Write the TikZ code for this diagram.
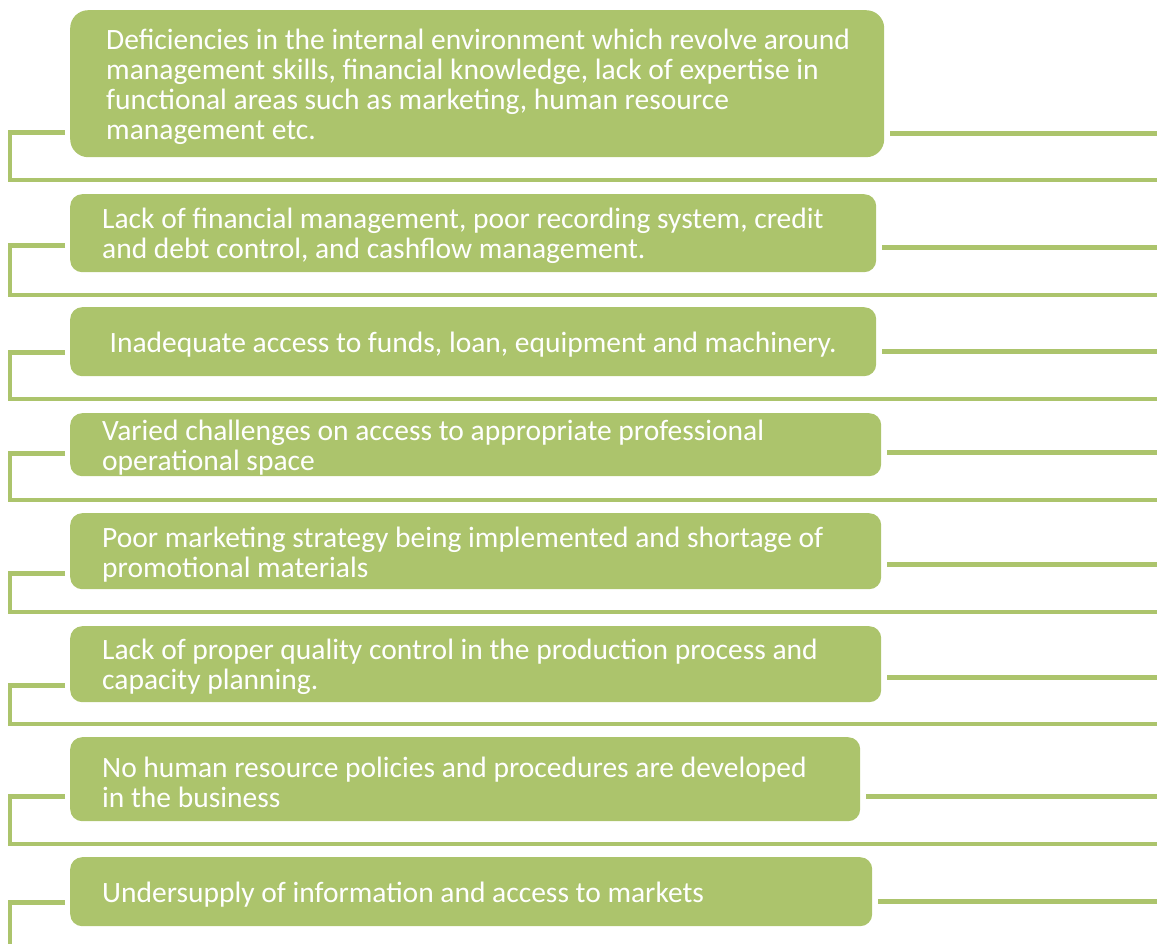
\documentclass[tikz,border=0pt]{standalone}
\usepackage{fontspec}
\setmainfont{Carlito}
\usetikzlibrary{calc}
\definecolor{leaf}{RGB}{172,196,108}
\begin{document}
\begin{tikzpicture}[x=1pt,y=-1pt,
  boxcard/.style={fill=leaf, rounded corners=12pt, inner sep=0pt, anchor=north west},
  cardtext/.style={text=white, font=\fontsize{29.5}{30}\selectfont, align=left, inner sep=0pt, anchor=west, yshift=-3pt},
  wire/.style={draw=leaf, line width=4.6pt}]
\useasboundingbox (0,0) rectangle (1157,944);

% cards
\node[boxcard, rounded corners=18pt, minimum width=814pt, minimum height=147pt] (b1) at (70,10) {};
\node[boxcard, minimum width=806pt, minimum height=78pt] (b2) at (70,194) {};
\node[boxcard, minimum width=806pt, minimum height=69pt] (b3) at (70,307) {};
\node[boxcard, minimum width=811pt, minimum height=63pt] (b4) at (70,413) {};
\node[boxcard, minimum width=811pt, minimum height=76pt] (b5) at (70,513) {};
\node[boxcard, minimum width=811pt, minimum height=76pt] (b6) at (70,626) {};
\node[boxcard, minimum width=790pt, minimum height=84pt] (b7) at (70,737) {};
\node[boxcard, minimum width=802pt, minimum height=69pt] (b8) at (70,857) {};

% card texts
\node[cardtext] (t1) at ($(b1.west)+(36,0)$) {Deficiencies in the internal environment which revolve around\\management skills, financial knowledge, lack of expertise in\\functional areas such as marketing, human resource\\management etc.};
\node[cardtext] (t2) at ($(b2.west)+(32,0)$) {Lack of financial management, poor recording system, credit\\and debt control, and cashflow management.};
\node[cardtext, anchor=center] (t3) at (b3.center) {Inadequate access to funds, loan, equipment and machinery.};
\node[cardtext] (t4) at ($(b4.west)+(32,0)$) {Varied challenges on access to appropriate professional\\operational space};
\node[cardtext] (t5) at ($(b5.west)+(32,0)$) {Poor marketing strategy being implemented and shortage of\\promotional materials};
\node[cardtext] (t6) at ($(b6.west)+(32,0)$) {Lack of proper quality control in the production process and\\capacity planning.};
\node[cardtext] (t7) at ($(b7.west)+(32,0)$) {No human resource policies and procedures are developed\\in the business};
\node[cardtext] (t8) at ($(b8.west)+(32,0)$) {Undersupply of information and access to markets};

% left stubs and the brackets that run along under each card
\coordinate (l1) at ($(b1.south west)+(-5,-25)$);
\coordinate (l2) at ($(b2.south west)+(-5,-27)$);
\coordinate (l3) at ($(b3.south west)+(-5,-24)$);
\coordinate (l4) at ($(b4.south west)+(-5,-23)$);
\coordinate (l5) at ($(b5.south west)+(-5,-16)$);
\coordinate (l6) at ($(b6.south west)+(-5,-17)$);
\coordinate (l7) at ($(b7.south west)+(-5,-25)$);
\coordinate (l8) at ($(b8.south west)+(-5,-24)$);

\draw[wire] (l1) -| (10,180) -- (1157,180);
\draw[wire] (l2) -| (10,295) -- (1157,295);
\draw[wire] (l3) -| (10,399) -- (1157,399);
\draw[wire] (l4) -| (10,500) -- (1157,500);
\draw[wire] (l5) -| (10,612) -- (1157,612);
\draw[wire] (l6) -| (10,724) -- (1157,724);
\draw[wire] (l7) -| (10,844) -- (1157,844);
\draw[wire] (l8) -| (10,944);

% right stubs
\coordinate (rim) at (1157,0);
\coordinate (r1) at ($(b1.south east)+(6,-24)$);
\coordinate (r2) at ($(b2.south east)+(6,-25)$);
\coordinate (r3) at ($(b3.south east)+(6,-25)$);
\coordinate (r4) at ($(b4.south east)+(6,-24)$);
\coordinate (r5) at ($(b5.south east)+(6,-25)$);
\coordinate (r6) at ($(b6.south east)+(6,-25)$);
\coordinate (r7) at ($(b7.south east)+(6,-25)$);
\coordinate (r8) at ($(b8.south east)+(6,-25)$);
\foreach \r in {r1,r2,r3,r4,r5,r6,r7,r8}
  \draw[wire] (\r) -- (\r -| rim);
\end{tikzpicture}
\end{document}
